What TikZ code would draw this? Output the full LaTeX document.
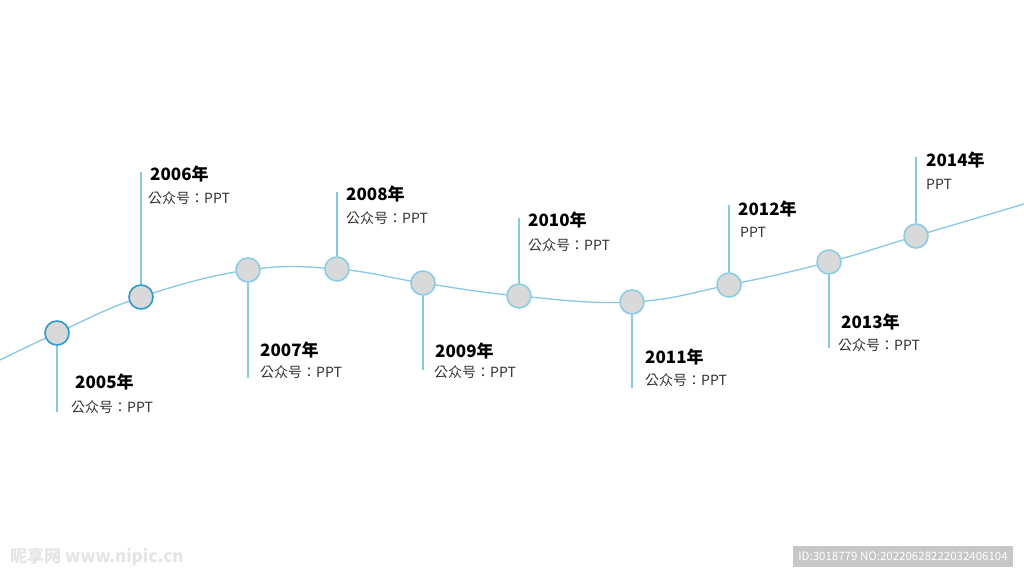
\documentclass[tikz,border=0pt]{standalone}
\usepackage{fontspec}
\setmainfont{Noto Sans CJK SC}
\newfontfamily\subfont{Noto Sans CJK TC}
\begin{document}
\begin{tikzpicture}[x=1pt,y=-1pt,
  wave/.style={draw=lineblue, line width=1.3pt},
  stem/.style={draw=lineblue, line width=1.6pt},
  dot/.style={circle, minimum size=24pt, inner sep=0pt, fill=dotgrey, draw=dotborder, line width=1.6pt},
  dotdark/.style={dot, draw=darkblue},
  yr/.style={anchor=west, font=\fontsize{17}{17}\selectfont\bfseries, text=black, inner sep=0pt},
  sub/.style={anchor=west, font=\subfont\fontsize{14}{14}\selectfont, text=subgrey, inner sep=0pt}]
\definecolor{lineblue}{HTML}{86C9E2}
\definecolor{dotgrey}{HTML}{D9D9D9}
\definecolor{dotborder}{HTML}{8CCDE3}
\definecolor{darkblue}{HTML}{2E9ACB}
\definecolor{subgrey}{HTML}{333333}
\useasboundingbox (0,0) rectangle (1024,576);
\fill[white] (0,0) rectangle (1024,576);
% wave
\draw[wave] plot[smooth, tension=0.7] coordinates {(0,360) (57,333) (141,297) (248,270) (337,269) (423,283) (519,296) (632,302) (729,285) (829,262) (916,236) (1024,204)};
% stem end points
\coordinate (e05) at (57,412);
\coordinate (e06) at (141,172);
\coordinate (e07) at (248,378);
\coordinate (e08) at (337,192);
\coordinate (e09) at (423,370);
\coordinate (e10) at (519,218);
\coordinate (e11) at (632,388);
\coordinate (e12) at (729,205);
\coordinate (e13) at (829,348);
\coordinate (e14) at (916,157);
% circles
\node[dotdark] (c05) at (57,333) {};
\node[dotdark] (c06) at (141,297) {};
\node[dot] (c07) at (248,270) {};
\node[dot] (c08) at (337,269) {};
\node[dot] (c09) at (423,283) {};
\node[dot] (c10) at (519,296) {};
\node[dot] (c11) at (632,302) {};
\node[dot] (c12) at (729,285) {};
\node[dot] (c13) at (829,262) {};
\node[dot] (c14) at (916,236) {};
\draw[stem] (c05.south) -- (e05);
\draw[stem] (c06.north) -- (e06);
\draw[stem] (c07.south) -- (e07);
\draw[stem] (c08.north) -- (e08);
\draw[stem] (c09.south) -- (e09);
\draw[stem] (c10.north) -- (e10);
\draw[stem] (c11.south) -- (e11);
\draw[stem] (c12.north) -- (e12);
\draw[stem] (c13.south) -- (e13);
\draw[stem] (c14.north) -- (e14);
% labels
\node[yr] (y05) at (75,382) {2005年};
\node[sub] (s05) at (71,407) {公众号：PPT};
\node[yr] (y06) at (150,174) {2006年};
\node[sub] (s06) at (148,198) {公众号：PPT};
\node[yr] (y07) at (260,350) {2007年};
\node[sub] (s07) at (260,372) {公众号：PPT};
\node[yr] (y08) at (346,194) {2008年};
\node[sub] (s08) at (346,218) {公众号：PPT};
\node[yr] (y09) at (435,351) {2009年};
\node[sub] (s09) at (434,372) {公众号：PPT};
\node[yr] (y10) at (528,220) {2010年};
\node[sub] (s10) at (528,245) {公众号：PPT};
\node[yr] (y11) at (645,357) {2011年};
\node[sub] (s11) at (645,380) {公众号：PPT};
\node[yr] (y12) at (738,209) {2012年};
\node[sub] (s12) at (740,232) {PPT};
\node[yr] (y13) at (841,322) {2013年};
\node[sub] (s13) at (838,345) {公众号：PPT};
\node[yr] (y14) at (926,160) {2014年};
\node[sub] (s14) at (926,184) {PPT};
% watermarks
\node[anchor=west, inner sep=0pt, font=\fontsize{17}{17}\selectfont\bfseries, text=black!10] (wm) at (10,557) {昵享网 \itshape www.nipic.cn};
\node[fill=black!22, text=white, inner sep=0pt, minimum width=220pt, minimum height=21pt, font=\fontsize{11.5}{11.5}\selectfont] (id) at (903,556) {ID:3018779 NO:20220628222032406104};
\end{tikzpicture}
\end{document}
